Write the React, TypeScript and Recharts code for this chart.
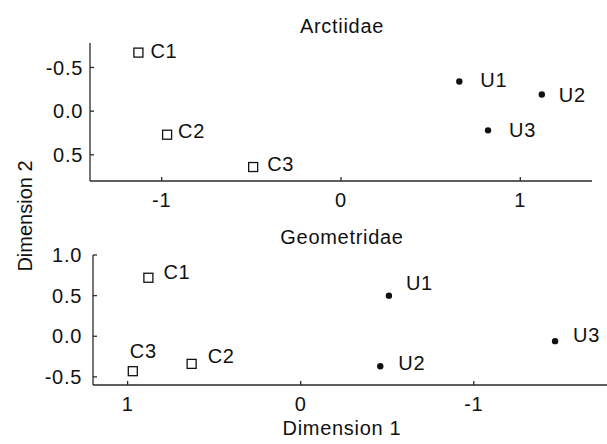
import { ScatterChart, Scatter, XAxis, YAxis } from 'recharts'

// ordination scores
const controlNames = ['C1', 'C2', 'C3']
const unmanagedNames = ['U1', 'U2', 'U3']

const arctControlX = [-1.13, -0.97, -0.49]
const arctControlY = [-0.67, 0.27, 0.64]
const arctUnmanagedX = [0.66, 1.12, 0.82]
const arctUnmanagedY = [-0.34, -0.19, 0.22]

const geoControlX = [0.88, 0.63, 0.97]
const geoControlY = [0.72, -0.34, -0.43]
const geoUnmanagedX = [-0.51, -0.46, -1.47]
const geoUnmanagedY = [0.5, -0.37, -0.06]

const arctXTicks = [-1, 0, 1]
const arctYTicks = [-0.5, 0, 0.5]
const geoXTicks = [1, 0, -1]
const geoYTicks = [-0.5, 0, 0.5, 1]

// pixel offsets of the point labels (text start, vertical centre)
const arctLabelOffset: Record<string, [number, number]> = {
  C1: [12, -2], C2: [11, -4], C3: [14, -3],
  U1: [21, -1], U2: [17, 0], U3: [21, 0],
}
const geoLabelOffset: Record<string, [number, number]> = {
  C1: [15, -6], C2: [16, -8], C3: [-3, -20],
  U1: [17, -13], U2: [18, -3], U3: [18, -6],
}

const FONT = '"Liberation Sans", Arial, Helvetica, sans-serif'
const INK = '#111'
const AXIS = '#2a2a2a'
const FS = 20
const LS = 0.7

const toPoints = (names: string[], xs: number[], ys: number[]) =>
  names.map((name, i) => ({ name, x: xs[i], y: ys[i] }))

const tickStyle = { fill: INK, fontSize: FS, fontFamily: FONT, letterSpacing: LS }

function makeShape(kind: 'square' | 'dot', offsets: Record<string, [number, number]>) {
  return (props: any) => {
    const { cx, cy, payload } = props
    const o = offsets[payload.name] ?? [14, 0]
    return (
      <g>
        {kind === 'square' ? (
          <rect x={cx - 4.5} y={cy - 4.5} width={9} height={9} fill="#fff" stroke="#111" strokeWidth={1.3} />
        ) : (
          <circle cx={cx} cy={cy} r={3.2} fill="#111" />
        )}
        <text x={cx + o[0]} y={cy + o[1] + 7} fill={INK} fontSize={FS} fontFamily={FONT} letterSpacing={LS}>
          {payload.name}
        </text>
      </g>
    )
  }
}

function Title({ text, x, y }: { text: string; x: number; y: number }) {
  return (
    <div
      style={{
        position: 'absolute',
        left: x - 100,
        top: y - 12,
        width: 200,
        height: 24,
        lineHeight: '24px',
        textAlign: 'center',
        fontFamily: FONT,
        fontSize: FS,
        letterSpacing: LS,
        color: INK,
      }}
    >
      {text}
    </div>
  )
}

export default function App() {
  const arctC = toPoints(controlNames, arctControlX, arctControlY)
  const arctU = toPoints(unmanagedNames, arctUnmanagedX, arctUnmanagedY)
  const geoC = toPoints(controlNames, geoControlX, geoControlY)
  const geoU = toPoints(unmanagedNames, geoUnmanagedX, geoUnmanagedY)

  return (
    <div style={{ position: 'absolute', left: 0, top: 0, width: 607, height: 444, background: '#fff' }}>
      <div style={{ position: 'absolute', left: 0, top: 0 }}>
        <ScatterChart width={607} height={215} margin={{ top: 43, right: 15, bottom: 4, left: 50 }}>
          <XAxis
            type="number"
            dataKey="x"
            domain={[-1.4, 1.4]}
            ticks={arctXTicks}
            allowDataOverflow
            height={30}
            tickSize={-4}
            tickMargin={16}
            stroke={AXIS}
            strokeWidth={1.3}
            tick={tickStyle}
            tickFormatter={(v: number) => String(v)}
          />
          <YAxis
            type="number"
            dataKey="y"
            domain={[-0.78, 0.8]}
            reversed
            ticks={arctYTicks}
            allowDataOverflow
            width={40}
            tickSize={-4}
            tickMargin={11}
            stroke={AXIS}
            strokeWidth={1.3}
            tick={tickStyle}
            tickFormatter={(v: number) => v.toFixed(1)}
          />
          <Scatter data={arctC} shape={makeShape('square', arctLabelOffset)} isAnimationActive={false} />
          <Scatter data={arctU} shape={makeShape('dot', arctLabelOffset)} isAnimationActive={false} />
        </ScatterChart>
      </div>
      <div style={{ position: 'absolute', left: 0, top: 215 }}>
        <ScatterChart width={607} height={229} margin={{ top: 40, right: 0, bottom: 29, left: 53 }}>
          <XAxis
            type="number"
            dataKey="x"
            domain={[-1.77, 1.2]}
            reversed
            ticks={geoXTicks}
            allowDataOverflow
            height={30}
            tickSize={-4}
            tickMargin={16}
            stroke={AXIS}
            strokeWidth={1.3}
            tick={tickStyle}
            tickFormatter={(v: number) => String(v)}
          />
          <YAxis
            type="number"
            dataKey="y"
            domain={[-0.6, 1.0]}
            ticks={geoYTicks}
            allowDataOverflow
            width={40}
            tickSize={-4}
            tickMargin={15}
            stroke={AXIS}
            strokeWidth={1.3}
            tick={tickStyle}
            tickFormatter={(v: number) => v.toFixed(1)}
          />
          <Scatter data={geoC} shape={makeShape('square', geoLabelOffset)} isAnimationActive={false} />
          <Scatter data={geoU} shape={makeShape('dot', geoLabelOffset)} isAnimationActive={false} />
        </ScatterChart>
      </div>

      <Title text="Arctiidae" x={342} y={26} />
      <Title text="Geometridae" x={342} y={237} />
      <Title text="Dimension 1" x={342} y={428} />
      <div
        style={{
          position: 'absolute',
          left: 25 - 100,
          top: 216 - 12,
          width: 200,
          height: 24,
          lineHeight: '24px',
          textAlign: 'center',
          fontFamily: FONT,
          fontSize: FS,
          color: INK,
          transform: 'rotate(-90deg)',
        }}
      >
        Dimension 2
      </div>
    </div>
  )
}
